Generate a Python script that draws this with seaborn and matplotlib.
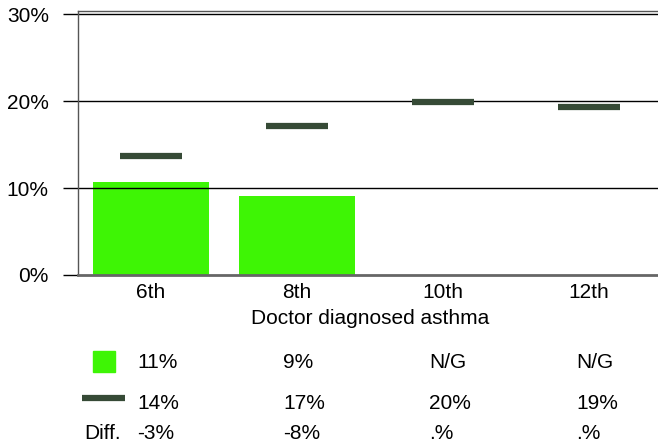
import numpy as np
import pandas as pd
import matplotlib
matplotlib.use("Agg")
import matplotlib.pyplot as plt
import seaborn as sns

# data
grades = ["6th", "8th", "10th", "12th"]
local_vals = [10.7, 9.1, np.nan, np.nan]      # bars (N/G for 10th, 12th)
state_vals = [13.7, 17.1, 19.9, 19.3]         # dark dashes
local_labels = ["11%", "9%", "N/G", "N/G"]
state_labels = ["14%", "17%", "20%", "19%"]
diff_labels = ["-3%", "-8%", ".%", ".%"]
yticks = [0, 10, 20, 30]

bar_color = "#3ef505"
line_color = "#364a36"

sns.set_style("white")
plt.rcParams['font.family'] = ['Liberation Sans', 'DejaVu Sans']
plt.rcParams['text.color'] = 'black'
plt.rcParams['xtick.color'] = 'black'
plt.rcParams['ytick.color'] = 'black'
plt.rcParams['axes.labelcolor'] = 'black'

fs = 15

fig = plt.figure(figsize=(6.58, 4.44), dpi=100)
ax = fig.add_axes([78 / 658, 1 - 275 / 444, 584 / 658, 264 / 444])

df = pd.DataFrame({"grade": grades, "pct": local_vals})
sns.barplot(data=df, x="grade", y="pct", color=bar_color, width=0.8,
            saturation=1, ax=ax, edgecolor="none")

xpos = np.arange(len(grades))
ax.hlines(state_vals, xpos - 0.215, xpos + 0.215, color=line_color, lw=4.5,
          capstyle="butt", zorder=3)

ax.set_xlim(-0.5, 3.5)
ax.set_ylim(0, 30.35)
ax.set_yticks(yticks)
ax.set_yticklabels([f"{t}%" for t in yticks], fontsize=fs)
ax.set_xticks(xpos)
ax.set_xticklabels(grades, fontsize=fs)
ax.tick_params(axis="y", length=11, width=1, direction="out", pad=10, left=True)
ax.tick_params(axis="x", length=0, pad=6)
ax.set_xlabel("Doctor diagnosed asthma", fontsize=fs, labelpad=5)
ax.set_ylabel("")

for t in yticks[1:]:
    ax.axhline(t, color="black", lw=1, zorder=1)
for s in ["top", "left"]:
    ax.spines[s].set_color("#555555")
    ax.spines[s].set_linewidth(1)
ax.spines["right"].set_visible(False)
ax.spines["bottom"].set_color("#666666")
ax.spines["bottom"].set_linewidth(2)

# summary table below the chart
col_x = [137, 283, 429, 576]
row_y = [362, 403, 433]
for i in range(len(grades)):
    fig.text(col_x[i] / 658, 1 - row_y[0] / 444, local_labels[i], fontsize=fs, va="center")
    fig.text(col_x[i] / 658, 1 - row_y[1] / 444, state_labels[i], fontsize=fs, va="center")
    fig.text(col_x[i] / 658, 1 - row_y[2] / 444, diff_labels[i], fontsize=fs, va="center")

fig.patches.append(plt.Rectangle((93 / 658, 1 - 372 / 444), 22 / 658, 21 / 444,
                                 transform=fig.transFigure, color=bar_color))
fig.lines.append(plt.Line2D([82 / 658, 125 / 658], [1 - 398 / 444] * 2,
                            transform=fig.transFigure, color=line_color, lw=4.5,
                            solid_capstyle="butt"))
fig.text(121 / 658, 1 - row_y[2] / 444, "Diff.", fontsize=fs, va="center", ha="right")

fig.savefig("out.png", dpi=100)
